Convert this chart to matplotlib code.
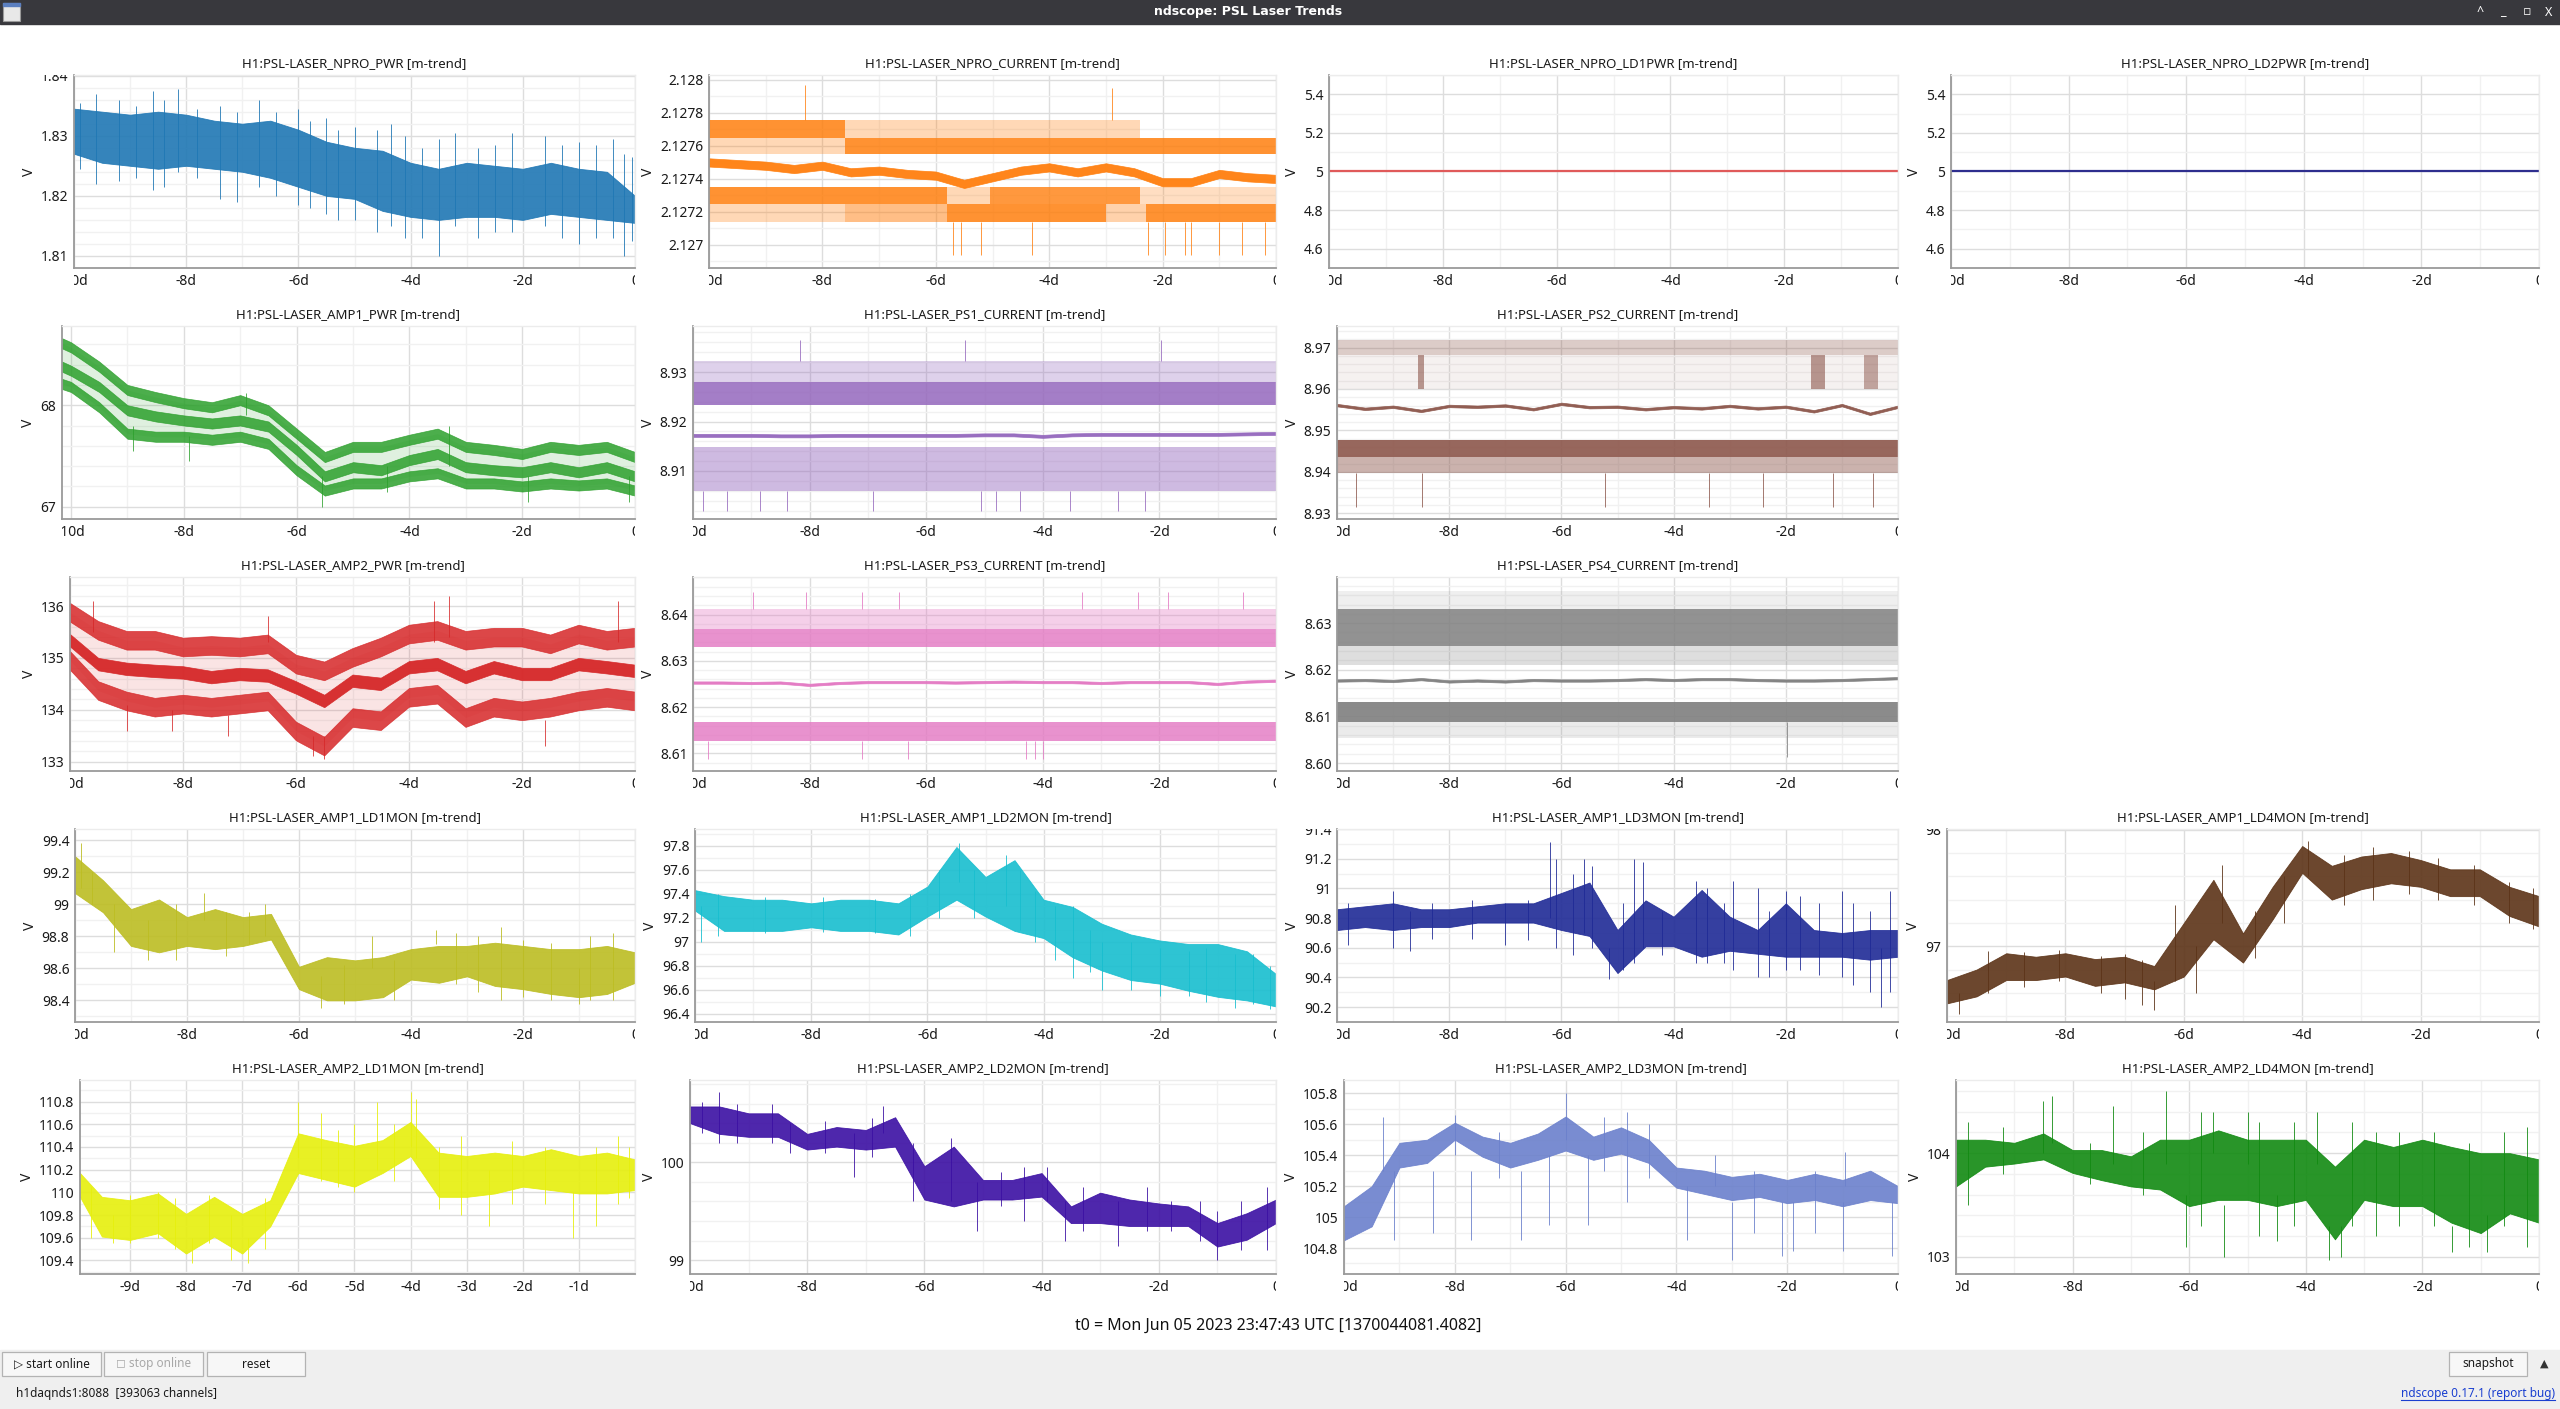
import numpy as np
import matplotlib
matplotlib.use("Agg")
import matplotlib.pyplot as plt
from matplotlib.ticker import MultipleLocator, FuncFormatter
from matplotlib.transforms import Bbox, TransformedBbox
from matplotlib.patches import Rectangle
from matplotlib.lines import Line2D

plt.rcParams['font.family'] = ['Noto Sans', 'DejaVu Sans']

# ---- data (days relative to t0) ----
T = [-10, -9.5, -9, -8.5, -8, -7.5, -7, -6.5, -6, -5.5, -5,
     -4.5, -4, -3.5, -3, -2.5, -2, -1.5, -1, -0.5, 0]
T_AMP1 = [-10.16] + T
T_A2LD1 = [-9.89] + T[1:]

# NPRO_PWR: body envelope + spikes (t, lo, hi)
npro_pwr_hi = [1.8345, 1.8340, 1.8335, 1.8340, 1.8335, 1.8325, 1.8320, 1.8325, 1.8310, 1.8290, 1.8280,
               1.8275, 1.8255, 1.8245, 1.8255, 1.8250, 1.8245, 1.8255, 1.8245, 1.8240, 1.8200]
npro_pwr_lo = [1.8270, 1.8255, 1.8250, 1.8245, 1.8250, 1.8245, 1.8240, 1.8230, 1.8215, 1.8200, 1.8195,
               1.8175, 1.8165, 1.8160, 1.8165, 1.8165, 1.8160, 1.8170, 1.8165, 1.8160, 1.8155]
npro_pwr_spikes = [(-9.6, 1.8220, 1.8370), (-8.6, 1.8210, 1.8375), (-8.15, 1.8240, 1.8377),
                   (-7.4, 1.8195, 1.8350), (-6.7, 1.8215, 1.8360), (-6.0, 1.8185, 1.8345),
                   (-5.5, 1.8170, 1.8330), (-5.3, 1.8160, 1.8310), (-4.6, 1.8140, 1.8310),
                   (-4.35, 1.8150, 1.8320), (-3.5, 1.8100, 1.8295), (-3.2, 1.8150, 1.8305),
                   (-2.8, 1.8130, 1.8280), (-2.2, 1.8140, 1.8305), (-1.6, 1.8150, 1.8300),
                   (-1.0, 1.8120, 1.8290), (-0.4, 1.8130, 1.8295), (-0.2, 1.8100, 1.8270),
                   (-9.9, 1.8245, 1.8355), (-9.2, 1.8225, 1.8360), (-8.9, 1.8230, 1.8350),
                   (-8.4, 1.8215, 1.8360), (-7.8, 1.8230, 1.8345), (-7.1, 1.8190, 1.8340),
                   (-6.4, 1.8200, 1.8340), (-5.8, 1.8180, 1.8325), (-5.0, 1.8160, 1.8315),
                   (-4.1, 1.8130, 1.8300), (-3.8, 1.8130, 1.8280), (-2.5, 1.8140, 1.8285),
                   (-1.3, 1.8130, 1.8285), (-0.7, 1.8130, 1.8285), (-0.05, 1.8125, 1.8265)]

# NPRO_CURRENT: quantised min/max bands (t0, t1, lo, hi, density) + mean
npro_cur_spans = [(-10, -7.6, 2.12765, 2.12776, 0.85), (-10, -7.6, 2.12755, 2.12765, 0.3),
                  (-7.6, 0, 2.12755, 2.12765, 0.85), (-7.6, -2.4, 2.12765, 2.12776, 0.3),
                  (-10, -5.8, 2.12725, 2.12735, 0.85), (-5.8, -5.05, 2.12725, 2.12735, 0.3),
                  (-5.05, -2.4, 2.12725, 2.12735, 0.8), (-2.4, 0, 2.12725, 2.12735, 0.25),
                  (-10, -7.6, 2.12714, 2.12725, 0.3), (-7.6, -5.8, 2.12714, 2.12725, 0.5),
                  (-5.8, -3.0, 2.12714, 2.12725, 0.85), (-3.0, -2.3, 2.12714, 2.12725, 0.35),
                  (-2.3, 0, 2.12714, 2.12725, 0.85)]
npro_cur_mean = [2.12750, 2.12749, 2.12748, 2.12746, 2.12748, 2.12744, 2.12745, 2.12743, 2.12742, 2.12737, 2.12741,
                 2.12745, 2.12747, 2.12744, 2.12747, 2.12744, 2.12738, 2.12738, 2.12743, 2.12741, 2.12740]
npro_cur_spikes = [(-8.3, 2.12776, 2.12797), (-2.9, 2.12776, 2.12795), (-5.7, 2.12694, 2.12714),
                   (-5.55, 2.12694, 2.12714), (-5.2, 2.12694, 2.12714), (-4.3, 2.12694, 2.12714),
                   (-2.25, 2.12694, 2.12714), (-1.95, 2.12694, 2.12714), (-1.6, 2.12694, 2.12714),
                   (-1.5, 2.12694, 2.12714), (-1.0, 2.12694, 2.12714), (-0.6, 2.12694, 2.12714),
                   (-0.2, 2.12694, 2.12714)]

# NPRO_LD1PWR / LD2PWR: flat
ld_pwr_t = [-10, 0]
ld1pwr = [5.0, 5.0]
ld2pwr = [5.0, 5.0]

# AMP1_PWR: max / mean / min traces
amp1_hi = [68.61, 68.57, 68.38, 68.15, 68.08, 68.02, 67.98, 68.05, 67.95, 67.72, 67.49,
           67.59, 67.59, 67.66, 67.72, 67.59, 67.56, 67.52, 67.59, 67.56, 67.59, 67.49]
amp1_mid = [68.38, 68.34, 68.18, 67.95, 67.89, 67.85, 67.82, 67.85, 67.79, 67.56, 67.30,
            67.39, 67.36, 67.46, 67.52, 67.39, 67.36, 67.34, 67.39, 67.34, 67.39, 67.30]
amp1_lo = [68.21, 68.18, 67.98, 67.72, 67.69, 67.69, 67.66, 67.69, 67.62, 67.36, 67.16,
           67.23, 67.23, 67.30, 67.33, 67.23, 67.23, 67.20, 67.23, 67.21, 67.23, 67.16]
amp1_spikes = [(-5.55, 67.0, 67.3), (-4.4, 67.15, 67.4), (-3.3, 67.4, 67.8), (-1.9, 67.05, 67.3),
               (-0.1, 67.05, 67.3), (-8.9, 67.55, 67.8), (-7.9, 67.45, 67.7), (-6.9, 67.9, 68.12)]

# PS1_CURRENT
ps1_spans = [(-10, 0, 8.9279, 8.9323, 0.3), (-10, 0, 8.9234, 8.9279, 0.85), (-10, 0, 8.9060, 8.9148, 0.45)]
ps1_mean = [8.9172, 8.9172, 8.9172, 8.9171, 8.9171, 8.9172, 8.9172, 8.9172, 8.9172, 8.9172, 8.9173,
            8.9173, 8.9170, 8.9173, 8.9174, 8.9174, 8.9174, 8.9174, 8.9174, 8.9175, 8.9176]
ps1_spikes = [(-8.16, 8.9323, 8.9364), (-5.34, 8.9323, 8.9364), (-1.97, 8.9323, 8.9364),
              (-9.83, 8.9020, 8.9060), (-9.42, 8.9020, 8.9060), (-8.85, 8.9020, 8.9060),
              (-8.38, 8.9020, 8.9060), (-6.91, 8.9020, 8.9060), (-5.06, 8.9020, 8.9060),
              (-4.81, 8.9020, 8.9060), (-4.39, 8.9020, 8.9060), (-3.53, 8.9020, 8.9060),
              (-2.71, 8.9020, 8.9060), (-2.25, 8.9020, 8.9060), (0.0, 8.9020, 8.9060)]

# PS2_CURRENT
ps2_spans = [(-10, 0, 8.9682, 8.9719, 0.3), (-10, 0, 8.9600, 8.9682, 0.08),
             (-8.55, -8.45, 8.9600, 8.9682, 0.6), (-1.55, -1.3, 8.9600, 8.9682, 0.6),
             (-0.6, -0.35, 8.9600, 8.9682, 0.5),
             (-10, 0, 8.9436, 8.9476, 0.9), (-10, 0, 8.9396, 8.9436, 0.45)]
ps2_mean = [8.9561, 8.9552, 8.9557, 8.9547, 8.9559, 8.9557, 8.9560, 8.9551, 8.9564, 8.9556, 8.9557,
            8.9551, 8.9556, 8.9553, 8.9559, 8.9553, 8.9557, 8.9546, 8.9561, 8.9540, 8.9557]
ps2_spikes = [(-9.67, 8.9315, 8.9396), (-8.49, 8.9315, 8.9396), (-5.23, 8.9315, 8.9396),
              (-3.37, 8.9315, 8.9396), (-2.40, 8.9315, 8.9396), (-1.15, 8.9315, 8.9396),
              (-0.45, 8.9315, 8.9396)]

# AMP2_PWR: max / mean / min traces
amp2_hi = [135.88, 135.53, 135.34, 135.34, 135.21, 135.24, 135.21, 135.27, 134.88, 134.75, 135.01,
           135.21, 135.46, 135.53, 135.34, 135.40, 135.40, 135.27, 135.46, 135.34, 135.40]
amp2_mid = [135.34, 134.88, 134.79, 134.75, 134.72, 134.63, 134.69, 134.66, 134.43, 134.17, 134.56,
            134.50, 134.82, 134.88, 134.63, 134.82, 134.69, 134.69, 134.88, 134.82, 134.75]
amp2_lo = [134.95, 134.37, 134.17, 134.05, 134.11, 134.05, 134.11, 134.17, 133.59, 133.30, 133.85,
           133.79, 134.24, 134.30, 133.85, 134.05, 133.98, 134.05, 134.17, 134.24, 134.17]
amp2_spikes = [(-3.3, 135.4, 136.2), (-3.55, 135.3, 136.1), (-0.3, 135.3, 136.1), (-9.6, 135.5, 136.1),
               (-5.5, 133.05, 133.5), (-5.7, 133.1, 133.5), (-7.2, 133.5, 133.9), (-1.6, 133.3, 133.8),
               (-8.2, 133.6, 134.0), (-6.5, 135.3, 135.8), (-9.0, 133.6, 134.1)]

# PS3_CURRENT
ps3_spans = [(-10, 0, 8.6369, 8.6411, 0.35), (-10, 0, 8.6329, 8.6369, 0.8), (-10, 0, 8.6127, 8.6168, 0.8)]
ps3_mean = [8.6253, 8.6253, 8.6252, 8.6253, 8.6248, 8.6252, 8.6254, 8.6254, 8.6254, 8.6253, 8.6254,
            8.6255, 8.6254, 8.6254, 8.6252, 8.6254, 8.6254, 8.6254, 8.6250, 8.6255, 8.6257]
ps3_spikes = [(-8.97, 8.6411, 8.6448), (-8.07, 8.6411, 8.6448), (-7.10, 8.6411, 8.6448),
              (-6.47, 8.6411, 8.6448), (-3.33, 8.6411, 8.6448), (-2.36, 8.6411, 8.6448),
              (-1.86, 8.6411, 8.6448), (-0.57, 8.6411, 8.6448), (-9.74, 8.6087, 8.6127),
              (-7.10, 8.6087, 8.6127), (-6.31, 8.6087, 8.6127), (-4.29, 8.6087, 8.6127),
              (-4.14, 8.6087, 8.6127), (-4.0, 8.6087, 8.6127)]

# PS4_CURRENT
ps4_spans = [(-10, 0, 8.6330, 8.6369, 0.12), (-10, 0, 8.6250, 8.6330, 0.85), (-10, 0, 8.6211, 8.6250, 0.25),
             (-10, 0, 8.6088, 8.6130, 0.9), (-10, 0, 8.6053, 8.6088, 0.15)]
ps4_mean = [8.6177, 8.6178, 8.6176, 8.6180, 8.6175, 8.6177, 8.6175, 8.6178, 8.6177, 8.6177, 8.6178,
            8.6180, 8.6178, 8.6180, 8.6180, 8.6178, 8.6177, 8.6177, 8.6178, 8.6180, 8.6182]
ps4_spikes = [(-1.97, 8.6013, 8.6088)]

# AMP1_LD1MON .. LD4MON envelopes
a1ld1_hi = [99.30, 99.15, 98.97, 99.03, 98.92, 98.97, 98.92, 98.94, 98.61, 98.67, 98.65,
            98.67, 98.72, 98.74, 98.74, 98.76, 98.74, 98.72, 98.72, 98.74, 98.70]
a1ld1_lo = [99.07, 98.95, 98.74, 98.70, 98.74, 98.72, 98.74, 98.78, 98.47, 98.40, 98.40,
            98.42, 98.53, 98.51, 98.55, 98.49, 98.47, 98.44, 98.42, 98.44, 98.51]
a1ld1_spikes = [(-9.9, 99.1, 99.38), (-8.2, 98.65, 99.0), (-7.7, 98.9, 99.07), (-5.6, 98.35, 98.55),
                (-4.7, 98.6, 98.8), (-3.55, 98.75, 98.84), (-2.4, 98.4, 98.86), (-1.0, 98.38, 98.6),
                (-0.4, 98.4, 98.82), (-8.7, 98.65, 98.9), (-6.6, 98.8, 99.0),
                (-9.7, 99.0, 99.2), (-9.3, 98.7, 99.0), (-7.3, 98.68, 98.95), (-6.9, 98.75, 98.95),
                (-5.2, 98.38, 98.62), (-4.3, 98.4, 98.65), (-3.2, 98.5, 98.82), (-2.8, 98.45, 98.8),
                (-2.0, 98.42, 98.78), (-1.5, 98.4, 98.76), (-0.8, 98.4, 98.8)]

a1ld2_hi = [97.43, 97.38, 97.35, 97.35, 97.32, 97.35, 97.35, 97.32, 97.46, 97.79, 97.54,
            97.68, 97.35, 97.29, 97.15, 97.06, 97.01, 96.98, 96.98, 96.92, 96.73]
a1ld2_lo = [97.26, 97.09, 97.09, 97.09, 97.12, 97.09, 97.09, 97.06, 97.21, 97.35, 97.21,
            97.09, 97.03, 96.87, 96.76, 96.68, 96.65, 96.59, 96.54, 96.51, 96.46]
a1ld2_spikes = [(-9.9, 97.0, 97.3), (-5.45, 97.5, 97.82), (-4.65, 97.3, 97.72), (-4.15, 97.0, 97.42),
                (-3.5, 96.7, 97.3), (-2.5, 96.6, 97.0), (-1.5, 96.55, 96.92), (-0.7, 96.45, 96.9),
                (-0.1, 96.44, 96.8), (-3.0, 96.6, 97.0), (-2.0, 96.55, 96.95),
                (-9.6, 97.05, 97.4), (-8.8, 97.07, 97.37), (-7.8, 97.08, 97.37), (-6.9, 97.07, 97.36),
                (-6.3, 97.05, 97.4), (-5.8, 97.2, 97.6), (-5.2, 97.2, 97.6), (-4.4, 97.1, 97.6),
                (-3.8, 96.85, 97.3), (-3.2, 96.75, 97.1), (-1.2, 96.5, 96.95), (-0.4, 96.48, 96.9)]

a1ld3_hi = [90.86, 90.88, 90.90, 90.86, 90.86, 90.88, 90.90, 90.90, 90.97, 91.04, 90.72,
            90.92, 90.81, 90.99, 90.81, 90.72, 90.90, 90.72, 90.70, 90.72, 90.72]
a1ld3_lo = [90.72, 90.74, 90.72, 90.74, 90.74, 90.77, 90.77, 90.77, 90.72, 90.68, 90.43,
            90.61, 90.61, 90.54, 90.58, 90.56, 90.54, 90.54, 90.54, 90.52, 90.54]
a1ld3_spikes = [(-6.2, 90.8, 91.31), (-6.1, 90.6, 91.2), (-5.6, 90.7, 91.2), (-5.45, 90.6, 91.15),
                (-4.7, 90.5, 91.2), (-4.55, 90.6, 91.18), (-3.6, 90.5, 91.05), (-3.4, 90.5, 91.0),
                (-2.95, 90.45, 91.05), (-2.5, 90.4, 91.0), (-2.0, 90.45, 90.98), (-1.75, 90.45, 90.95),
                (-1.0, 90.4, 90.98), (-0.8, 90.35, 90.9), (-0.15, 90.3, 90.98), (-0.3, 90.2, 90.6),
                (-9.0, 90.6, 90.98), (-8.7, 90.58, 90.85), (-7.0, 90.62, 90.9), (-5.15, 90.39, 90.6),
                (-9.8, 90.62, 90.9), (-8.3, 90.66, 90.9), (-7.6, 90.66, 90.92), (-6.6, 90.65, 90.92),
                (-5.8, 90.55, 91.1), (-4.9, 90.45, 90.9), (-4.2, 90.55, 90.85), (-3.1, 90.5, 90.9),
                (-2.3, 90.4, 90.85), (-1.4, 90.42, 90.9), (-0.5, 90.3, 90.85)]

a1ld4_hi = [96.71, 96.80, 96.94, 96.91, 96.94, 96.89, 96.91, 96.83, 97.20, 97.57, 97.11,
            97.51, 97.86, 97.69, 97.77, 97.80, 97.74, 97.66, 97.66, 97.51, 97.43]
a1ld4_lo = [96.51, 96.57, 96.71, 96.71, 96.74, 96.66, 96.69, 96.63, 96.74, 97.06, 96.86,
            97.23, 97.63, 97.40, 97.49, 97.54, 97.51, 97.43, 97.43, 97.26, 97.17]
a1ld4_spikes = [(-6.15, 96.7, 97.35), (-5.35, 97.2, 97.7), (-5.8, 96.6, 97.0), (-3.9, 97.6, 97.9),
                (-2.8, 97.4, 97.85), (-6.5, 96.45, 96.7), (-9.8, 96.42, 96.6), (-0.1, 97.15, 97.5),
                (-9.3, 96.6, 96.96), (-8.7, 96.65, 96.95), (-8.1, 96.7, 96.97), (-7.4, 96.6, 96.92),
                (-7.0, 96.55, 96.93), (-6.7, 96.5, 96.88), (-4.8, 96.9, 97.3), (-4.3, 97.2, 97.6),
                (-3.3, 97.35, 97.78), (-2.2, 97.45, 97.82), (-1.7, 97.4, 97.76), (-1.1, 97.35, 97.7),
                (-0.5, 97.2, 97.55)]

# AMP2_LD1MON .. LD4MON envelopes
a2ld1_hi = [110.17, 109.96, 109.93, 109.99, 109.81, 109.96, 109.81, 109.93, 110.52, 110.46, 110.41,
            110.46, 110.62, 110.35, 110.32, 110.35, 110.32, 110.38, 110.32, 110.35, 110.29]
a2ld1_lo = [109.96, 109.61, 109.58, 109.64, 109.46, 109.61, 109.46, 109.70, 110.17, 110.11, 110.05,
            110.17, 110.32, 109.96, 109.96, 109.99, 110.05, 110.02, 109.99, 109.99, 110.02]
a2ld1_spikes = [(-6.0, 110.3, 110.8), (-5.6, 110.1, 110.7), (-4.6, 110.2, 110.8), (-4.0, 110.4, 110.88),
                (-3.9, 110.3, 110.82), (-3.1, 109.8, 110.5), (-2.6, 109.7, 110.2), (-0.7, 109.7, 110.4),
                (-0.3, 109.9, 110.5), (-7.9, 109.38, 109.6), (-6.9, 109.38, 109.6), (-8.5, 109.6, 110.0),
                (-9.3, 109.55, 109.8), (-1.1, 109.6, 110.0),
                (-9.7, 109.6, 110.05), (-9.0, 109.55, 109.98), (-8.2, 109.5, 109.95), (-7.6, 109.55, 109.98),
                (-7.2, 109.4, 109.8), (-6.6, 109.5, 109.95), (-5.3, 110.05, 110.55), (-5.0, 110.0, 110.6),
                (-4.3, 110.1, 110.6), (-3.5, 109.85, 110.4), (-2.2, 109.9, 110.45), (-1.6, 109.9, 110.4),
                (-0.1, 109.95, 110.4)]

a2ld2_hi = [100.57, 100.57, 100.50, 100.50, 100.29, 100.36, 100.33, 100.46, 99.96, 100.16, 99.82,
            99.82, 99.89, 99.55, 99.69, 99.62, 99.58, 99.55, 99.38, 99.48, 99.62]
a2ld2_lo = [100.40, 100.29, 100.26, 100.26, 100.13, 100.16, 100.13, 100.16, 99.62, 99.55, 99.62,
            99.62, 99.65, 99.38, 99.38, 99.35, 99.35, 99.35, 99.14, 99.21, 99.38]
a2ld2_spikes = [(-9.5, 100.2, 100.72), (-8.6, 100.2, 100.6), (-7.2, 99.85, 100.3), (-6.7, 100.3, 100.57),
                (-5.55, 99.6, 100.25), (-5.1, 99.3, 99.8), (-4.3, 99.4, 99.95), (-3.6, 99.2, 99.6),
                (-2.7, 99.15, 99.6), (-2.2, 99.3, 99.75), (-1.0, 99.0, 99.5), (-0.15, 99.1, 99.75),
                (-9.8, 100.3, 100.62), (-9.2, 100.2, 100.6), (-8.3, 100.1, 100.4), (-7.7, 100.1, 100.42),
                (-6.9, 100.05, 100.45), (-6.2, 99.6, 100.2), (-4.7, 99.55, 99.9), (-3.9, 99.6, 99.95),
                (-3.3, 99.3, 99.75), (-1.8, 99.3, 99.6), (-1.3, 99.2, 99.6), (-0.6, 99.1, 99.6)]

a2ld3_hi = [105.07, 105.20, 105.48, 105.50, 105.61, 105.52, 105.48, 105.54, 105.65, 105.52, 105.58,
            105.50, 105.32, 105.30, 105.26, 105.28, 105.24, 105.28, 105.24, 105.30, 105.20]
a2ld3_lo = [104.85, 104.94, 105.32, 105.35, 105.50, 105.39, 105.32, 105.37, 105.43, 105.37, 105.41,
            105.35, 105.19, 105.15, 105.11, 105.13, 105.09, 105.11, 105.07, 105.11, 105.09]
a2ld3_spikes = [(-9.1, 104.85, 105.3), (-8.4, 104.9, 105.3), (-7.7, 104.85, 105.3), (-6.8, 104.85, 105.3),
                (-6.3, 104.95, 105.4), (-5.6, 104.95, 105.4), (-4.9, 105.1, 105.4), (-3.8, 104.85, 105.2),
                (-3.0, 104.72, 105.1), (-2.1, 104.75, 105.1), (-1.9, 104.78, 105.1), (-1.0, 104.78, 105.1),
                (-0.1, 104.75, 105.1), (-9.3, 105.3, 105.65), (-6.0, 105.5, 105.8), (-4.9, 105.4, 105.68),
                (-0.95, 105.2, 105.42), (-3.3, 105.2, 105.4),
                (-8.0, 105.4, 105.66), (-7.2, 105.25, 105.55), (-5.3, 105.3, 105.65), (-4.5, 105.25, 105.6),
                (-2.6, 104.9, 105.3), (-1.5, 104.9, 105.3)]

a2ld4_hi = [104.13, 104.13, 104.10, 104.19, 104.03, 104.03, 103.97, 104.13, 104.13, 104.22, 104.13,
            104.13, 104.13, 103.87, 104.13, 104.06, 104.13, 104.06, 104.00, 104.00, 103.94]
a2ld4_lo = [103.68, 103.87, 103.90, 103.94, 103.81, 103.74, 103.68, 103.65, 103.49, 103.55, 103.55,
            103.49, 103.55, 103.17, 103.55, 103.49, 103.49, 103.33, 103.23, 103.42, 103.33]
a2ld4_spikes = [(-8.35, 104.1, 104.55), (-8.5, 104.0, 104.5), (-7.3, 103.9, 104.45), (-6.4, 103.9, 104.6),
                (-6.05, 103.1, 103.6), (-5.4, 103.0, 103.5), (-4.5, 103.15, 103.6), (-3.6, 102.97, 103.3),
                (-3.4, 103.0, 103.3), (-2.4, 103.3, 104.2), (-1.5, 103.05, 103.3), (-0.9, 103.05, 103.4),
                (-0.2, 103.1, 104.25), (-3.8, 103.9, 104.4), (-5.0, 103.9, 104.4), (-5.6, 104.0, 104.4),
                (-9.8, 103.5, 104.3), (-9.2, 103.8, 104.25), (-7.7, 103.7, 104.1), (-6.8, 103.6, 104.2),
                (-5.8, 103.3, 104.4), (-4.8, 103.2, 104.3), (-4.2, 103.3, 104.3), (-3.2, 103.3, 104.3),
                (-2.8, 103.2, 104.2), (-1.8, 103.3, 104.2), (-1.2, 103.1, 104.1), (-0.6, 103.3, 104.2)]

# ---- figure ----
W, H = 2560, 1409
fig = plt.figure(figsize=(W / 100, H / 100), dpi=100)
fig.patch.set_facecolor('white')

ROWS = [(75, 268), (326, 519), (577, 771), (829, 1022), (1080, 1274)]
RIGHT = [635, 1276, 1898, 2539]
all_axes = []


def day_fmt(v, pos):
    return "0" if abs(v) < 1e-9 else "%dd" % round(v)


def make_ax(row, col, left, title, ylim, ymaj, ymin, xlim=(-10, 0), xmaj=2, xmin=1, yfmt="{:g}", hide_zero=False):
    top, bot = ROWS[row]
    ax = fig.add_axes([left / W, 1 - bot / H, (RIGHT[col] - left) / W, (bot - top) / H])
    ax.set_xlim(*xlim)
    ax.set_ylim(*ylim)
    ax.xaxis.set_major_locator(MultipleLocator(xmaj))
    if xmin:
        ax.xaxis.set_minor_locator(MultipleLocator(xmin))
    ax.yaxis.set_major_locator(MultipleLocator(ymaj))
    ax.yaxis.set_minor_locator(MultipleLocator(ymin))
    if hide_zero:
        ax.xaxis.set_major_formatter(FuncFormatter(lambda v, p: "" if abs(v) < 1e-9 else "%dd" % round(v)))
    else:
        ax.xaxis.set_major_formatter(FuncFormatter(day_fmt))
    ax.yaxis.set_major_formatter(FuncFormatter(lambda v, p: yfmt.format(v)))
    ax.set_axisbelow(True)
    ax.grid(which='major', color='#dddddd', lw=1.0)
    ax.grid(which='minor', color='#f1f1f1', lw=1.0)
    ax.tick_params(which='both', length=0, labelsize=10, colors='#1a1a1a', pad=4)
    for s in ('left', 'bottom'):
        ax.spines[s].set_color('#9a9a9a')
        ax.spines[s].set_linewidth(1.3)
    for s in ('top', 'right'):
        ax.spines[s].set_color('#ececec')
        ax.spines[s].set_linewidth(1.0)
    ax.set_title(title, fontsize=9.5, pad=6, color='#1a1a1a')
    ax.set_ylabel('V', fontsize=10, color='#1a1a1a', labelpad=3)
    all_axes.append(ax)
    return ax


def body(ax, t, lo, hi, color, spikes=()):
    ax.fill_between(t, lo, hi, color=color, alpha=0.9, lw=0.6)
    if spikes:
        st, slo, shi = zip(*spikes)
        ax.vlines(st, slo, shi, color=color, lw=0.7, alpha=0.85)


def spans(ax, sp, color):
    for t0, t1, lo, hi, a in sp:
        ax.fill_between([t0, t1], [lo, lo], [hi, hi], color=color, alpha=a, lw=0)


def spikes_only(ax, sp, color):
    st, slo, shi = zip(*sp)
    ax.vlines(st, slo, shi, color=color, lw=0.7, alpha=0.8)


def trace(ax, t, y, hw, color, alpha=0.85):
    y = np.asarray(y)
    ax.fill_between(t, y - hw, y + hw, color=color, alpha=alpha, lw=0.5)


# row 1
ax = make_ax(0, 0, 74, "H1:PSL-LASER_NPRO_PWR [m-trend]", (1.808, 1.8401), 0.01, 0.002)
body(ax, T, npro_pwr_lo, npro_pwr_hi, '#1f77b4', npro_pwr_spikes)

ax = make_ax(0, 1, 709, "H1:PSL-LASER_NPRO_CURRENT [m-trend]", (2.12686, 2.12803), 0.0002, 0.0001)
spans(ax, npro_cur_spans, '#ff7f0e')
trace(ax, T, npro_cur_mean, 0.000025, '#ff7f0e', 0.95)
spikes_only(ax, npro_cur_spikes, '#ff7f0e')

ax = make_ax(0, 2, 1329, "H1:PSL-LASER_NPRO_LD1PWR [m-trend]", (4.5, 5.5), 0.2, 0.1)
ax.plot(ld_pwr_t, ld1pwr, color='#e05a5a', lw=1.6)

ax = make_ax(0, 3, 1951, "H1:PSL-LASER_NPRO_LD2PWR [m-trend]", (4.5, 5.5), 0.2, 0.1)
ax.plot(ld_pwr_t, ld2pwr, color='#2e2e8e', lw=1.6)

# row 2
ax = make_ax(1, 0, 62, "H1:PSL-LASER_AMP1_PWR [m-trend]", (66.88, 68.78), 1, 0.2, xlim=(-10.16, 0))
ax.fill_between(T_AMP1, amp1_lo, amp1_hi, color='#2ca02c', alpha=0.15, lw=0)
for arr in (amp1_hi, amp1_mid, amp1_lo):
    trace(ax, T_AMP1, arr, 0.05, '#2ca02c')
spikes_only(ax, amp1_spikes, '#2ca02c')

ax = make_ax(1, 1, 693, "H1:PSL-LASER_PS1_CURRENT [m-trend]", (8.9003, 8.9393), 0.01, 0.002)
spans(ax, ps1_spans, '#9467bd')
trace(ax, T, ps1_mean, 0.0003, '#9467bd', 0.95)
spikes_only(ax, ps1_spikes, '#9467bd')

ax = make_ax(1, 2, 1337, "H1:PSL-LASER_PS2_CURRENT [m-trend]", (8.9286, 8.9752), 0.01, 0.002)
spans(ax, ps2_spans, '#8c564b')
trace(ax, T, ps2_mean, 0.0003, '#8c564b', 0.95)
spikes_only(ax, ps2_spikes, '#8c564b')

# row 3
ax = make_ax(2, 0, 70, "H1:PSL-LASER_AMP2_PWR [m-trend]", (132.82, 136.56), 1, 0.2)
ax.fill_between(T, amp2_lo, amp2_hi, color='#d62728', alpha=0.12, lw=0)
trace(ax, T, amp2_hi, 0.18, '#d62728')
trace(ax, T, amp2_mid, 0.12, '#d62728', 0.95)
trace(ax, T, amp2_lo, 0.18, '#d62728')
spikes_only(ax, amp2_spikes, '#d62728')

ax = make_ax(2, 1, 693, "H1:PSL-LASER_PS3_CURRENT [m-trend]", (8.6062, 8.6481), 0.01, 0.002)
spans(ax, ps3_spans, '#e377c2')
trace(ax, T, ps3_mean, 0.00025, '#e377c2', 0.95)
spikes_only(ax, ps3_spikes, '#e377c2')

ax = make_ax(2, 2, 1337, "H1:PSL-LASER_PS4_CURRENT [m-trend]", (8.5983, 8.6399), 0.01, 0.002, yfmt="{:.2f}")
spans(ax, ps4_spans, '#7f7f7f')
trace(ax, T, ps4_mean, 0.00025, '#7f7f7f', 0.95)
spikes_only(ax, ps4_spikes, '#7f7f7f')

# row 4
ax = make_ax(3, 0, 75, "H1:PSL-LASER_AMP1_LD1MON [m-trend]", (98.265, 99.47), 0.2, 0.1)
body(ax, T, a1ld1_lo, a1ld1_hi, '#bcbd22', a1ld1_spikes)

ax = make_ax(3, 1, 695, "H1:PSL-LASER_AMP1_LD2MON [m-trend]", (96.33, 97.94), 0.2, 0.1)
body(ax, T, a1ld2_lo, a1ld2_hi, '#17becf', a1ld2_spikes)

ax = make_ax(3, 2, 1337, "H1:PSL-LASER_AMP1_LD3MON [m-trend]", (90.10, 91.401), 0.2, 0.1)
body(ax, T, a1ld3_lo, a1ld3_hi, '#1f2a96', a1ld3_spikes)

ax = make_ax(3, 3, 1947, "H1:PSL-LASER_AMP1_LD4MON [m-trend]", (96.35, 98.006), 1, 0.2)
body(ax, T, a1ld4_lo, a1ld4_hi, '#5c3317', a1ld4_spikes)

# row 5
ax = make_ax(4, 0, 80, "H1:PSL-LASER_AMP2_LD1MON [m-trend]", (109.28, 110.99), 0.2, 0.1,
             xlim=(-9.89, 0), xmaj=1, xmin=None, hide_zero=True)
body(ax, T_A2LD1, a2ld1_lo, a2ld1_hi, '#e6ef0c', a2ld1_spikes)

ax = make_ax(4, 1, 690, "H1:PSL-LASER_AMP2_LD2MON [m-trend]", (98.86, 100.84), 1, 0.2)
body(ax, T, a2ld2_lo, a2ld2_hi, '#3b0fa3', a2ld2_spikes)

ax = make_ax(4, 2, 1344, "H1:PSL-LASER_AMP2_LD3MON [m-trend]", (104.632, 105.886), 0.2, 0.1)
body(ax, T, a2ld3_lo, a2ld3_hi, '#6b80cc', a2ld3_spikes)

ax = make_ax(4, 3, 1956, "H1:PSL-LASER_AMP2_LD4MON [m-trend]", (102.836, 104.705), 1, 0.2)
body(ax, T, a2ld4_lo, a2ld4_hi, '#118a11', a2ld4_spikes)


# ---- window chrome ----
def px_rect(x0, y0, x1, y1, **kw):
    r = Rectangle((x0 / W, 1 - y1 / H), (x1 - x0) / W, (y1 - y0) / H, transform=fig.transFigure, **kw)
    fig.add_artist(r)
    return r


def px_text(x, y, s, **kw):
    return fig.text(x / W, 1 - y / H, s, **kw)


px_rect(0, 0, W, 24, color='#38383d', zorder=5)
px_rect(3, 3, 20, 21, facecolor='#e8e8e8', edgecolor='#9a9a9a', lw=0.8, zorder=6)
px_rect(3, 3, 20, 6, color='#5b7fc0', zorder=7)
px_text(1248, 12, "ndscope: PSL Laser Trends", color='white', fontsize=9, fontweight='bold',
        family='DejaVu Sans', ha='center', va='center', zorder=8)
for x, s in ((2480, "^"), (2503, "_"), (2527, "▫"), (2549, "X")):
    px_text(x, 12, s, color='white', fontsize=9, fontweight='bold', ha='center', va='center', zorder=8)

px_text(1278, 1326, "t0 = Mon Jun 05 2023 23:47:43 UTC [1370044081.4082]", fontsize=11.5,
        ha='center', va='center', color='#111111')

px_rect(0, 1350, W, H, color='#efefef', zorder=1)
for x0, x1, label, col in ((2, 101, "▷ start online", '#1a1a1a'), (104, 203, "◻ stop online", '#a8a8a8'),
                           (207, 305, "reset", '#1a1a1a'), (2449, 2527, "snapshot", '#1a1a1a')):
    px_rect(x0, 1352, x1, 1376, facecolor='#f7f7f7', edgecolor='#b3b3b3', lw=0.9, zorder=2)
    px_text((x0 + x1) / 2, 1364, label, fontsize=8.5, color=col, ha='center', va='center', zorder=3)
px_text(2544, 1364, "▲", fontsize=8, color='#333333', ha='center', va='center')
px_text(16, 1394, "h1daqnds1:8088  [393063 channels]", fontsize=8.5, color='#1a1a1a', ha='left', va='center')
link = px_text(2555, 1394, "ndscope 0.17.1 (report bug)", fontsize=8.5, color='#1a3fd0', ha='right', va='center')

fig.canvas.draw()
renderer = fig.canvas.get_renderer()
bb = link.get_window_extent(renderer)
fig.add_artist(Line2D([bb.x0 / W, bb.x1 / W], [(bb.y0 + 1) / H, (bb.y0 + 1) / H],
                      transform=fig.transFigure, color='#1a3fd0', lw=0.8))

# clip tick labels to the axis extent, like the original viewer
for a in all_axes:
    xb = TransformedBbox(Bbox([[0, -1], [1, 0]]), a.transAxes)
    yb = TransformedBbox(Bbox([[-1, 0], [0, 1]]), a.transAxes)
    for tk in a.xaxis.get_major_ticks():
        tk.label1.set_clip_box(xb)
        tk.label1.set_clip_on(True)
    for tk in a.yaxis.get_major_ticks():
        tk.label1.set_clip_box(yb)
        tk.label1.set_clip_on(True)

fig.savefig("out.png", dpi=100, facecolor='white')
